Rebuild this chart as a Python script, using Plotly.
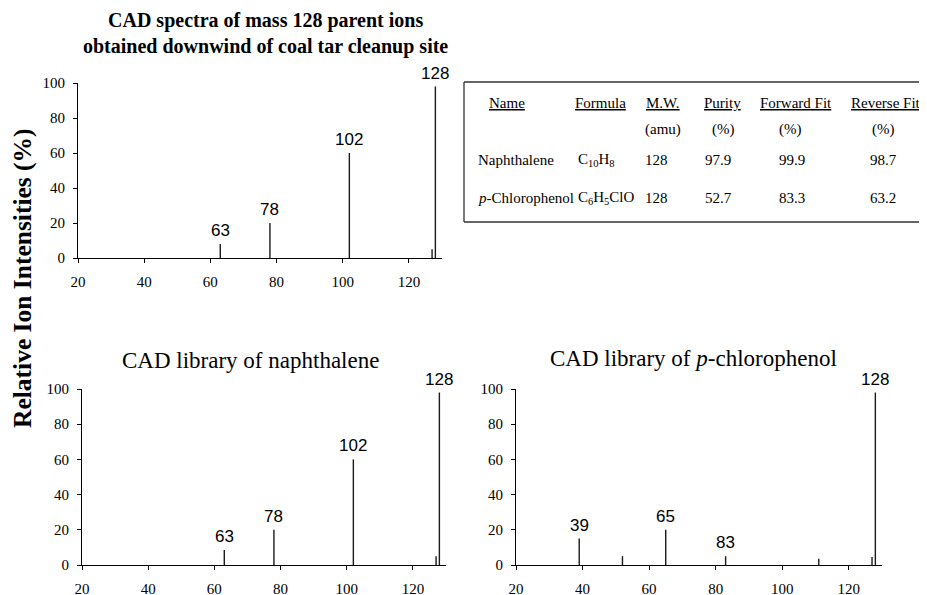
import plotly.graph_objects as go

# ---------------- data ----------------
site_mz = [63, 78, 102, 127, 128]
site_int = [8, 20, 60, 5, 98]
site_labeled = [63, 78, 102, 128]

naph_mz = [63, 78, 102, 127, 128]
naph_int = [8.5, 20, 60, 5, 98]
naph_labeled = [63, 78, 102, 128]

chloro_mz = [39, 52, 65, 83, 111, 127, 128]
chloro_int = [15, 5, 20, 5, 3.5, 4.5, 98]
chloro_labeled = [39, 65, 83, 128]

x_ticks = [20, 40, 60, 80, 100, 120]
y_ticks = [0, 20, 40, 60, 80, 100]

tbl_headers = ["Name", "Formula", "M.W.", "Purity", "Forward Fit", "Reverse Fit"]
tbl_units = ["", "", "(amu)", "(%)", "(%)", "(%)"]
tbl_names = ["Naphthalene", "<i>p</i>-Chlorophenol"]
tbl_formula = ["C<sub>10</sub>H<sub>8</sub>", "C<sub>6</sub>H<sub>5</sub>ClO"]
tbl_mw = ["128", "128"]
tbl_purity = ["97.9", "52.7"]
tbl_forward = ["99.9", "83.3"]
tbl_reverse = ["98.7", "63.2"]

# ---------------- layout helpers ----------------
# The page body has an 8px margin, so the figure is drawn 8px smaller and
# positions (given in window pixels) are shifted by that offset.
OFF = 8
W, H = 927 - OFF, 595 - OFF
def px(x):
    return (x - OFF) / W
def py(y):
    return 1 - (y - OFF) / H

SERIF = "Liberation Serif"
SANS = "Liberation Sans"
LINE = "#1a1a1a"

def stems(mz, inten):
    xs, ys = [], []
    for m, v in zip(mz, inten):
        xs += [m, m, None]
        ys += [0, v, None]
    return xs, ys

def note(x, y, text, font, xanchor="center", yanchor="middle", **kw):
    d = dict(x=px(x), y=py(y), xref="paper", yref="paper", text=text,
             showarrow=False, xanchor=xanchor, yanchor=yanchor, font=font)
    d.update(kw)
    return d

fig = go.Figure()
panels = [
    (site_mz, site_int, site_labeled, "x", "y"),
    (naph_mz, naph_int, naph_labeled, "x2", "y2"),
    (chloro_mz, chloro_int, chloro_labeled, "x3", "y3"),
]
annotations = []
for mz, inten, labeled, xa, ya in panels:
    xs, ys = stems(mz, inten)
    fig.add_trace(go.Scatter(x=xs, y=ys, mode="lines", xaxis=xa, yaxis=ya,
                             line=dict(color=LINE, width=1.4), hoverinfo="skip",
                             showlegend=False))
    for m, v in zip(mz, inten):
        if m in labeled:
            annotations.append(dict(x=m, y=v, xref=xa, yref=ya, text=str(m),
                                    showarrow=False, xanchor="center", yanchor="bottom",
                                    yshift=2,
                                    font=dict(family=SANS, size=17, color="black")))

def xax(domain, anchor):
    return dict(domain=domain, anchor=anchor, range=[20, 130], tickvals=x_ticks,
                ticks="outside", ticklen=4, tickwidth=1, tickcolor="black",
                showline=True, linecolor="black", linewidth=1.2, showgrid=False,
                zeroline=False, ticklabelstandoff=6, automargin=False,
                tickfont=dict(family=SERIF, size=15, color="black"))

def yax(domain, anchor):
    return dict(domain=domain, anchor=anchor, range=[0, 100], tickvals=y_ticks,
                ticks="outside", ticklen=4, tickwidth=1, tickcolor="black",
                showline=True, linecolor="black", linewidth=1.2, showgrid=False,
                zeroline=False, ticklabelstandoff=5, automargin=False,
                tickfont=dict(family=SERIF, size=15, color="black"))

# titles
annotations.append(note(265, 33,
                        "<b>CAD spectra of mass 128 parent ions<br>obtained downwind of coal tar cleanup site</b>",
                        dict(family=SERIF, size=20, color="black")))
annotations.append(note(250, 360, "CAD library of naphthalene",
                        dict(family=SERIF, size=23, color="black")))
annotations.append(note(693, 358, "CAD library of <i>p</i>-chlorophenol",
                        dict(family=SERIF, size=23, color="black")))
annotations.append(note(22, 278, "<b>Relative Ion Intensities (%)</b>",
                        dict(family=SERIF, size=25.5, color="black"), textangle=-90))

# table
tfont = dict(family=SERIF, size=15, color="black")
head_x = [507, 600, 663, 722, 796, 886]
unit_x = [None, None, 663, 723, 790, 883]
for hx, ht in zip(head_x, tbl_headers):
    annotations.append(note(hx, 103, "<u>" + ht + "</u>", tfont))
for ux, ut in zip(unit_x, tbl_units):
    if ut:
        annotations.append(note(ux, 129, ut, tfont))
row_y = [160, 198]
for i, ry in enumerate(row_y):
    annotations.append(note(476, ry, tbl_names[i], tfont, xanchor="left"))
    annotations.append(note(576, ry, tbl_formula[i], tfont, xanchor="left"))
    for cx, col in zip([656, 718, 792, 883], [tbl_mw, tbl_purity, tbl_forward, tbl_reverse]):
        annotations.append(note(cx, ry, col[i], tfont))

shapes = [
    dict(type="line", xref="paper", yref="paper", x0=px(464), x1=px(927), y0=py(82), y1=py(82),
         line=dict(color="#333", width=1.3)),
    dict(type="line", xref="paper", yref="paper", x0=px(464), x1=px(927), y0=py(222), y1=py(222),
         line=dict(color="#333", width=1.3)),
    dict(type="line", xref="paper", yref="paper", x0=px(464), x1=px(464), y0=py(82), y1=py(222),
         line=dict(color="#333", width=1.3)),
]

fig.update_layout(
    template="none",
    width=W, height=H,
    margin=dict(l=0, r=0, t=0, b=0, pad=0, autoexpand=False),
    paper_bgcolor="white", plot_bgcolor="white",
    showlegend=False,
    xaxis=xax([px(78), px(442)], "y"),
    yaxis=yax([py(258), py(83)], "x"),
    xaxis2=xax([px(82), px(446)], "y2"),
    yaxis2=yax([py(565), py(389)], "x2"),
    xaxis3=xax([px(516), px(882)], "y3"),
    yaxis3=yax([py(565), py(389)], "x3"),
    annotations=annotations,
    shapes=shapes,
)

fig.write_html("out.html")
